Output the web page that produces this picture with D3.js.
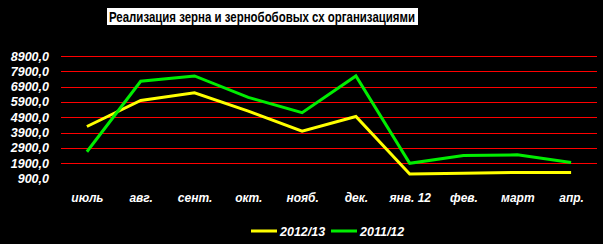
<!DOCTYPE html>
<html lang="ru">
<head>
  <meta charset="utf-8" />
  <style>
    body { margin: 0; background: #000; }
    text { font-family: "Liberation Sans", Arial, sans-serif; }
  </style>
</head>
<body>
<svg width="603" height="244"></svg>
<script src="https://d3js.org/d3.v7.min.js"></script>
<script>
var months = ["июль", "авг.", "сент.", "окт.", "нояб.", "дек.", "янв. 12", "фев.", "март", "апр."],
    seriesNames = ["2012/13", "2011/12"],
    seriesColors = ["#ffff00", "#00ee00"],
    values2012 = [4300, 6000, 6500, 5300, 4000, 4950, 1200, 1250, 1300, 1300],
    values2011 = [2650, 7250, 7600, 6200, 5200, 7600, 1900, 2400, 2450, 1950],
    yTicks = [900, 1900, 2900, 3900, 4900, 5900, 6900, 7900, 8900];

var svg = d3.select("svg"),
    width = 603,
    height = 244,
    plotLeft = 60,
    plotRight = 598,
    plotTop = 56,
    plotBottom = 178.6;

svg.append("rect").attr("width", width).attr("height", height).attr("fill", "#000");

var x = d3.scalePoint().domain(months).range([plotLeft, plotRight]).padding(0.5),
    y = d3.scaleLinear().domain([900, 8900]).range([plotBottom, plotTop]);

// title
var title = svg.append("g");
title.append("rect")
  .attr("x", 107).attr("y", 8).attr("width", 311).attr("height", 17)
  .attr("fill", "#fff");
title.append("text")
  .attr("x", 262).attr("y", 21.5)
  .attr("text-anchor", "middle")
  .attr("textLength", 306)
  .attr("lengthAdjust", "spacingAndGlyphs")
  .style("font-size", "15px")
  .style("font-weight", "bold")
  .attr("fill", "#000")
  .text("Реализация зерна и зернобобовых сх организациями");

// gridlines
svg.append("g")
  .selectAll("line")
  .data(yTicks.slice(1))
  .enter()
  .append("line")
  .attr("x1", plotLeft + 1)
  .attr("x2", plotRight - 1)
  .attr("y1", function(d) { return Math.round(y(d)) + 0.5; })
  .attr("y2", function(d) { return Math.round(y(d)) + 0.5; })
  .attr("stroke", "#ff0000")
  .attr("stroke-width", 1.2);

// y labels
var yAxis = d3.axisLeft(y)
  .tickValues(yTicks)
  .tickSize(0)
  .tickPadding(0)
  .tickFormat(function(d) { return d3.format(".1f")(d).replace(".", ","); });

svg.append("g")
  .attr("transform", "translate(49,0)")
  .call(yAxis)
  .call(function(g) { g.select(".domain").remove(); })
  .selectAll("text")
  .attr("fill", "#fff")
  .style("font-size", "12.5px")
  .style("font-weight", "bold")
  .style("font-style", "italic")
  .style("font-family", "'Liberation Sans', Arial, sans-serif");

// x labels
var xAxis = d3.axisBottom(x).tickSize(0).tickPadding(0);

svg.append("g")
  .attr("transform", "translate(0,193.5)")
  .call(xAxis)
  .call(function(g) { g.select(".domain").remove(); })
  .selectAll("text")
  .attr("fill", "#fff")
  .style("font-size", "12px")
  .style("font-weight", "bold")
  .style("font-style", "italic")
  .style("font-family", "'Liberation Sans', Arial, sans-serif");

// lines
var line = d3.line()
  .x(function(d, i) { return x(months[i]); })
  .y(function(d) { return y(d); });

svg.append("g")
  .selectAll("path")
  .data([values2012, values2011])
  .enter()
  .append("path")
  .attr("d", line)
  .attr("fill", "none")
  .attr("stroke", function(d, i) { return seriesColors[i]; })
  .attr("stroke-width", 3);

// legend
var legendX = [251, 331];
var legend = svg.append("g")
  .selectAll("g")
  .data(seriesNames)
  .enter()
  .append("g")
  .attr("transform", function(d, i) { return "translate(" + legendX[i] + ",231)"; });

legend.append("line")
  .attr("x1", 0).attr("x2", 26)
  .attr("stroke", function(d, i) { return seriesColors[i]; })
  .attr("stroke-width", 3);

legend.append("text")
  .attr("x", 29)
  .attr("y", 4.5)
  .attr("fill", "#fff")
  .style("font-size", "12.5px")
  .style("font-weight", "bold")
  .style("font-style", "italic")
  .text(function(d) { return d; });
</script>
</body>
</html>
